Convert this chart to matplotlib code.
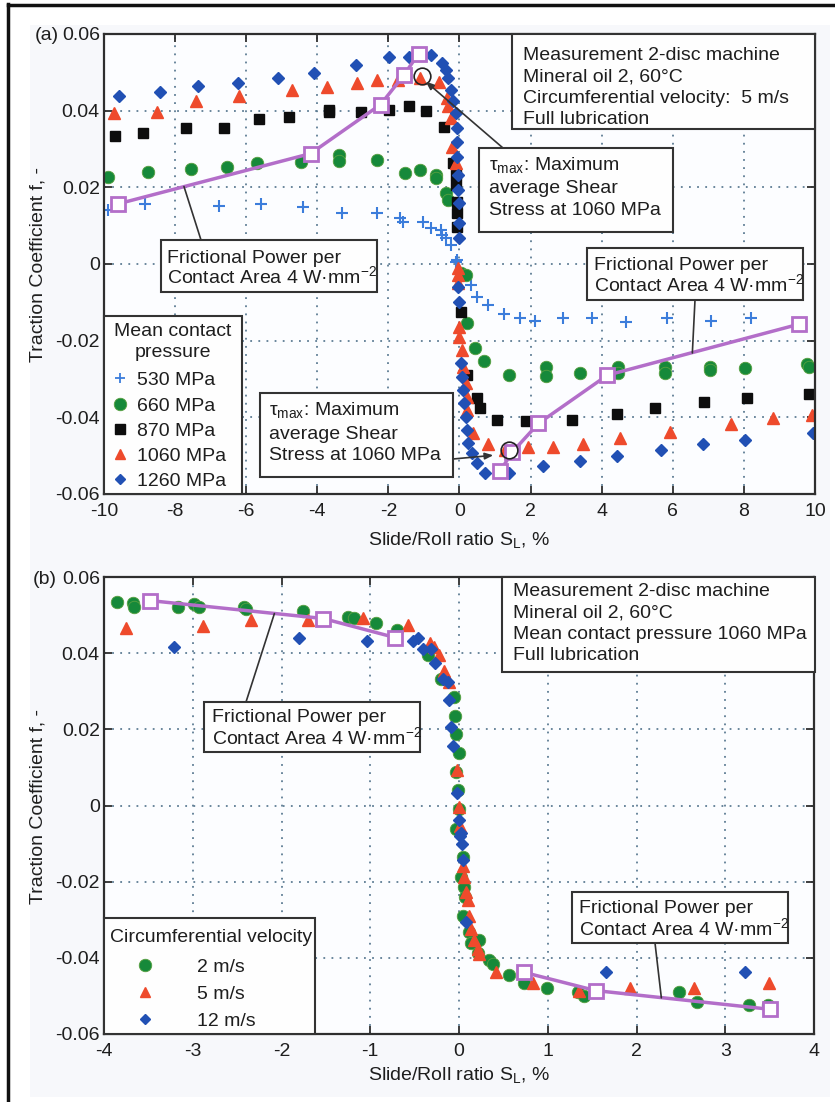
import matplotlib
matplotlib.use("Agg")
import matplotlib.pyplot as plt
import matplotlib.transforms as mtransforms
from matplotlib.patches import Rectangle
from matplotlib.lines import Line2D
from matplotlib.ticker import FuncFormatter

plt.rcParams['font.family'] = ['Liberation Sans', 'DejaVu Sans']
plt.rcParams['mathtext.fontset'] = 'custom'
plt.rcParams['mathtext.rm'] = 'Liberation Sans'
plt.rcParams['mathtext.it'] = 'Liberation Sans:italic'
plt.rcParams['axes.unicode_minus'] = False
plt.rcParams['font.size'] = 14

# ---------------- panel (a): mean contact pressure, 5 m/s ----------------
x_530 = [-9.9, -8.85, -6.77, -5.59, -4.41, -3.31, -2.33, -1.66, -1.6, -1.04, -0.81, -0.53, -0.48,
         -0.39, -0.25, -0.08, -0.11, 0.31, 0.5, 0.79, 1.24, 1.71, 2.13, 2.92, 3.73, 4.69, 5.84, 7.08, 8.2]
y_530 = [0.0141, 0.0157, 0.0152, 0.0157, 0.0149, 0.0133, 0.0133, 0.012, 0.011, 0.011, 0.0094, 0.0089, 0.0076,
         0.0068, 0.005, 0.001, 0.0005, -0.0055, -0.0086, -0.0107, -0.0131, -0.0141, -0.0149, -0.0141, -0.0141,
         -0.0152, -0.0141, -0.0149, -0.0141]

x_660 = [-9.9, -8.77, -7.56, -6.54, -5.7, -4.47, -3.4, -3.4, -2.33, -1.52, -1.1, -0.67, -0.65, -0.39, -0.31,
         0.03, 0.17, 0.22, 0.45, 0.7, 1.4, 2.42, 2.42, 3.4, 4.47, 4.47, 5.79, 5.79, 7.05, 7.05, 8.03, 9.78, 9.83]
y_660 = [0.0228, 0.0241, 0.0248, 0.0254, 0.0264, 0.0267, 0.0285, 0.0269, 0.0272, 0.0238, 0.0244, 0.0233, 0.0225,
         0.0186, 0.0167, -0.0024, -0.0029, -0.0154, -0.022, -0.0254, -0.029, -0.0269, -0.0293, -0.0285, -0.0269,
         -0.0285, -0.0269, -0.0285, -0.0269, -0.0277, -0.0272, -0.0261, -0.0269]

x_870 = [-9.69, -8.9, -7.7, -6.63, -5.65, -4.8, -3.68, -3.68, -2.78, -1.99, -1.43, -0.93, -0.45, -0.17, -0.11,
         -0.11, -0.06, -0.06, -0.06, 0.03, 0.22, 0.48, 0.59, 1.05, 1.87, 3.17, 4.44, 5.51, 6.88, 8.09, 9.83]
y_870 = [0.0335, 0.0342, 0.0356, 0.0356, 0.0379, 0.0384, 0.0397, 0.0402, 0.0397, 0.0403, 0.0413, 0.04, 0.0358,
         0.0264, 0.0233, 0.0206, 0.0162, 0.0133, 0.0097, -0.0125, -0.029, -0.0349, -0.0375, -0.0406, -0.0409,
         -0.0406, -0.0392, -0.0376, -0.0361, -0.035, -0.034]

x_1060 = [-9.72, -8.51, -7.42, -6.21, -4.72, -3.74, -2.87, -2.33, -1.74, -1.12, -0.59, -0.34, -0.31, -0.25, -0.2,
          -0.11, -0.03, -0.03, -0.03, 0.0, 0.0, 0.08, 0.11, 0.17, 0.22, 0.22, 0.39, 0.81, 1.29, 1.94, 2.64, 3.48,
          4.52, 5.93, 7.64, 8.82, 9.92]
y_1060 = [0.0395, 0.0397, 0.0424, 0.0437, 0.0455, 0.0463, 0.0473, 0.0481, 0.0481, 0.0484, 0.0476, 0.0434, 0.0413,
          0.0382, 0.0306, 0.0264, -0.001, -0.0029, -0.005, -0.0165, -0.019, -0.0225, -0.0269, -0.0311, -0.0348,
          -0.0382, -0.044, -0.0469, -0.0486, -0.0478, -0.0478, -0.047, -0.0455, -0.0439, -0.0418, -0.0403, -0.0395]

x_1260 = [-9.58, -8.43, -7.36, -6.24, -5.11, -4.1, -2.92, -1.99, -1.43, -0.81, -0.48, -0.39, -0.31, -0.25, -0.17,
          -0.11, -0.08, -0.06, -0.06, -0.03, -0.03, 0.0, 0.0, 0.0, -0.03, 0.0, 0.03, 0.08, 0.11, 0.14, 0.17, 0.22,
          0.25, 0.36, 0.48, 0.73, 1.4, 2.36, 3.4, 4.44, 5.67, 6.85, 8.03, 9.94]
y_1260 = [0.0437, 0.045, 0.0465, 0.0473, 0.0486, 0.0499, 0.052, 0.0539, 0.0541, 0.0546, 0.0525, 0.0507, 0.0486,
          0.0455, 0.0426, 0.0395, 0.0356, 0.0319, 0.028, 0.0233, 0.0193, 0.0159, 0.0107, 0.0068, -0.006, -0.0099,
          -0.0259, -0.0295, -0.0329, -0.0363, -0.04, -0.0434, -0.0468, -0.0494, -0.052, -0.0544, -0.0544, -0.0528,
          -0.0515, -0.0502, -0.0484, -0.047, -0.0458, -0.0442]

# frictional power 4 W/mm^2 curve (two branches)
fpa_left_x = [-9.6, -4.19, -2.22, -1.57, -1.15]
fpa_left_y = [0.0157, 0.0288, 0.0416, 0.0492, 0.0549]
fpa_right_x = [1.15, 1.49, 2.22, 4.16, 9.55]
fpa_right_y = [-0.0539, -0.049, -0.0416, -0.029, -0.0157]

# ---------------- panel (b): 1060 MPa, circumferential velocity ----------------
x_2ms = [-3.85, -3.67, -3.66, -3.17, -2.99, -2.93, -2.42, -2.4, -1.76, -1.25, -1.18, -0.94, -0.7, -0.35, -0.2,
         -0.06, -0.05, -0.03, 0.0, -0.03, -0.01, 0.0, -0.03, 0.04, 0.02, 0.06, 0.07, 0.04, 0.11, 0.14, 0.23, 0.21,
         0.34, 0.38, 0.56, 0.73, 0.99, 1.34, 1.41, 2.48, 2.68, 3.27, 3.48]
y_2ms = [0.0535, 0.0533, 0.052, 0.052, 0.053, 0.052, 0.0522, 0.0517, 0.0512, 0.0496, 0.0493, 0.0478, 0.0462,
         0.0394, 0.0331, 0.0286, 0.0234, 0.0189, 0.0139, 0.0089, 0.0042, -0.001, -0.0063, -0.0136, -0.0189,
         -0.0215, -0.0241, -0.0291, -0.0333, -0.036, -0.0352, -0.0388, -0.0407, -0.0417, -0.0444, -0.0465, -0.048,
         -0.049, -0.0501, -0.049, -0.0517, -0.0525, -0.0525]

x_5ms = [-3.75, -2.88, -2.34, -1.7, -1.08, -0.57, -0.33, -0.28, -0.23, -0.17, -0.11, -0.02, 0.0, 0.01, 0.05,
         0.06, 0.08, 0.1, 0.11, 0.14, 0.17, 0.21, 0.23, 0.42, 0.83, 1.35, 1.93, 2.65, 3.49]
y_5ms = [0.0465, 0.0472, 0.0486, 0.0486, 0.0492, 0.0474, 0.0428, 0.0417, 0.0396, 0.0354, 0.0325, 0.0092,
         -0.0003, -0.0055, -0.016, -0.0189, -0.0226, -0.0247, -0.0291, -0.0325, -0.0352, -0.0378, -0.0391,
         -0.0438, -0.0467, -0.0486, -0.0478, -0.0478, -0.0467]

x_12ms = [-3.21, -1.8, -1.04, -0.52, -0.46, -0.41, -0.32, -0.27, -0.18, -0.12, -0.11, -0.09, -0.07, -0.02, 0.0,
          0.01, 0.03, 0.02, 0.04, 0.08, 1.66, 3.22]
y_12ms = [0.0415, 0.0441, 0.0433, 0.0433, 0.0441, 0.041, 0.041, 0.0375, 0.0331, 0.0323, 0.0278, 0.0205, 0.0155,
          0.0034, -0.0037, -0.0081, -0.0102, -0.0071, -0.0142, -0.0307, -0.0438, -0.0436]

fpb_left_x = [-3.48, -1.53, -0.72]
fpb_left_y = [0.0538, 0.0491, 0.0441]
fpb_right_x = [0.73, 1.54, 3.5]
fpb_right_y = [-0.0438, -0.0486, -0.0535]

# annotation anchors (data coordinates)
tau_circles = [(-1.05, 0.049), (1.40, -0.0486)]
tau_tips = [(-0.95, 0.0476), (0.95, -0.0499)]
fp_targets_a = [(-7.75, 0.0202), (6.55, -0.0232)]
fp_targets_b = [(-2.08, 0.0504), (2.28, -0.0505)]

GREEN, RED, DBLUE, LBLUE, BLACK = '#16893a', '#ee4a2c', '#2150b4', '#3c7ddb', '#0d0d0d'
PURPLE = '#b36ec9'
EDGE = '#2e2e2e'
TXT = '#1e1e1e'

W, H = 835, 1102
fig = plt.figure(figsize=(W / 100, H / 100), dpi=100)
fig.patch.set_facecolor('white')
# pixel coordinates, origin top-left
PX = mtransforms.Affine2D().scale(1 / W, -1 / H).translate(0, 1) + fig.transFigure

fig.add_artist(Rectangle((30, 25), 800, 1072, transform=PX, facecolor='#f7f8fb',
                         edgecolor='none', zorder=-1))
fig.add_artist(Line2D([8, 8], [4, 1102], transform=PX, color='#111111', lw=2.5))
fig.add_artist(Line2D([8, 835], [5, 5], transform=PX, color='#111111', lw=2.5))

fmt = FuncFormatter(lambda v, p: '0' if abs(v) < 1e-9 else f'{v:g}')


def style_axes(ax, xticks, yticks):
    ax.set_facecolor('#fcfdff')
    ax.set_xlim(xticks[0], xticks[-1])
    ax.set_ylim(yticks[0], yticks[-1])
    ax.set_xticks(xticks)
    ax.set_yticks(yticks)
    ax.xaxis.set_major_formatter(fmt)
    ax.yaxis.set_major_formatter(fmt)
    ax.grid(True, linestyle=(0, (1, 3.5)), color='#5e7d94', lw=1.3)
    ax.set_axisbelow(True)
    ax.tick_params(direction='in', top=True, right=True, length=6, width=1.3,
                   color=EDGE, labelsize=14, labelcolor=TXT)
    ax.tick_params(axis='x', pad=6.5)
    ax.tick_params(axis='y', pad=3)
    for s in ax.spines.values():
        s.set_linewidth(1.6)
        s.set_color(EDGE)


def text_box(x0, y0, x1, y1, tx, baselines, lines):
    fig.add_artist(Rectangle((x0, y0), x1 - x0, y1 - y0, transform=PX, facecolor='#fefefe',
                             edgecolor='#333333', lw=1.5, zorder=2))
    for by, s in zip(baselines, lines):
        fig.text(tx, by, s, transform=PX, fontsize=14, va='baseline', ha='left',
                 color=TXT, zorder=3)


def leader(ax, target, start, arrow=False):
    style = dict(arrowstyle='-|>,head_length=0.35,head_width=0.14' if arrow else '-',
                 color='#333333', lw=1.2, shrinkA=0, shrinkB=0)
    ax.annotate('', xy=target, xycoords='data', xytext=start, textcoords=PX,
                arrowprops=style)


FP_LINES = ['Frictional Power per', 'Contact Area 4 W·mm$^{\\mathregular{-2}}$']
TAU_LINES = ['τ$_{\\mathregular{max}}$: Maximum', 'average Shear', 'Stress at 1060 MPa']

# ======================= panel (a) =======================
ax1 = fig.add_axes([104 / W, 1 - 494 / H, 711 / W, 460 / H])
style_axes(ax1, list(range(-10, 11, 2)), [-0.06, -0.04, -0.02, 0, 0.02, 0.04, 0.06])

ax1.plot(x_530, y_530, ls='none', marker='+', ms=8, mew=1.5, color=LBLUE)
ax1.plot(x_660, y_660, ls='none', marker='o', ms=9, mfc=GREEN, mec='#58a040', mew=0.6)
ax1.plot(x_870, y_870, ls='none', marker='s', ms=7.5, color=BLACK)
ax1.plot(x_1060, y_1060, ls='none', marker='^', ms=8, color=RED)
ax1.plot(x_1260, y_1260, ls='none', marker='D', ms=6, color=DBLUE)
for fx, fy in [(fpa_left_x, fpa_left_y), (fpa_right_x, fpa_right_y)]:
    ax1.plot(fx, fy, color=PURPLE, lw=2.5, marker='s', ms=10, mfc='white', mec=PURPLE, mew=2)

ax1.plot(*tau_circles[0], marker='o', ms=12, mfc='none', mec='#222222', mew=1.2)
ax1.plot(*tau_circles[1], marker='o', ms=12, mfc='none', mec='#222222', mew=1.2)
leader(ax1, tau_tips[0], (503, 148), arrow=True)
leader(ax1, tau_tips[1], (453, 459), arrow=True)
leader(ax1, fp_targets_a[0], (201, 240))
leader(ax1, fp_targets_a[1], (695, 300))

text_box(512, 34, 815, 129, 523, [60, 81, 103, 124],
         ['Measurement 2-disc machine', 'Mineral oil 2, 60°C',
          'Circumferential velocity:  5 m/s', 'Full lubrication'])
text_box(479, 148, 673, 232, 489, [170, 193, 215], TAU_LINES)
text_box(161, 240, 377, 292, 167, [263, 283], FP_LINES)
text_box(587, 248, 803, 300, 594, [270, 291], FP_LINES)
text_box(260, 393, 453, 477, 269, [415, 439, 460], TAU_LINES)

# legend (a)
fig.add_artist(Rectangle((104, 316), 138, 178, transform=PX, facecolor='#fefefe',
                         edgecolor='#333333', lw=1.5, zorder=2))
fig.text(173, 336, 'Mean contact', transform=PX, ha='center', va='baseline', fontsize=14, color=TXT, zorder=3)
fig.text(173, 357, 'pressure', transform=PX, ha='center', va='baseline', fontsize=14, color=TXT, zorder=3)
leg_a = [('530 MPa', dict(marker='+', ms=7, mew=1.3, color=LBLUE)),
         ('660 MPa', dict(marker='o', ms=9, mfc=GREEN, mec='#58a040', mew=0.6)),
         ('870 MPa', dict(marker='s', ms=6.5, color=BLACK)),
         ('1060 MPa', dict(marker='^', ms=7.5, color=RED)),
         ('1260 MPa', dict(marker='D', ms=5.5, color=DBLUE))]
for (lab, kw), by in zip(leg_a, [385, 411, 436, 461, 486]):
    fig.add_artist(Line2D([120], [by - 7], transform=PX, ls='none', zorder=3, **kw))
    fig.text(137, by, lab, transform=PX, ha='left', va='baseline', fontsize=14, color=TXT, zorder=3)

fig.text(47, 36, '(a)', transform=PX, ha='center', va='center', fontsize=14, color=TXT)
fig.text(38, 264, 'Traction Coefficient f, -', transform=PX, rotation=90,
         ha='center', va='center', fontsize=14, color=TXT)
fig.text(459, 540, 'Slide/Roll ratio S$_{\\mathregular{L}}$, %', transform=PX,
         ha='center', va='center', fontsize=14, color=TXT)

# ======================= panel (b) =======================
ax2 = fig.add_axes([104 / W, 1 - 1034 / H, 710 / W, 457 / H])
style_axes(ax2, list(range(-4, 5)), [-0.06, -0.04, -0.02, 0, 0.02, 0.04, 0.06])

ax2.plot(x_2ms, y_2ms, ls='none', marker='o', ms=9, mfc=GREEN, mec='#58a040', mew=0.6)
ax2.plot(x_5ms, y_5ms, ls='none', marker='^', ms=8, color=RED)
ax2.plot(x_12ms, y_12ms, ls='none', marker='D', ms=6, color=DBLUE)
for fx, fy in [(fpb_left_x, fpb_left_y), (fpb_right_x, fpb_right_y)]:
    ax2.plot(fx, fy, color=PURPLE, lw=2.5, marker='s', ms=10, mfc='white', mec=PURPLE, mew=2)

leader(ax2, fp_targets_b[0], (246, 702))
leader(ax2, fp_targets_b[1], (655, 943))

text_box(502, 577, 815, 672, 513, [596, 618, 639, 660],
         ['Measurement 2-disc machine', 'Mineral oil 2, 60°C',
          'Mean contact pressure 1060 MPa', 'Full lubrication'])
text_box(204, 702, 420, 752, 212, [722, 744], FP_LINES)
text_box(572, 892, 788, 943, 579, [913, 935], FP_LINES)

# legend (b)
fig.add_artist(Rectangle((104, 918), 211, 116, transform=PX, facecolor='#fefefe',
                         edgecolor='#333333', lw=1.5, zorder=2))
fig.text(110, 942, 'Circumferential velocity', transform=PX, ha='left', va='baseline',
         fontsize=14, color=TXT, zorder=3)
leg_b = [('2 m/s', dict(marker='o', ms=9, mfc=GREEN, mec='#58a040', mew=0.6)),
         ('5 m/s', dict(marker='^', ms=7.5, color=RED)),
         ('12 m/s', dict(marker='D', ms=5.5, color=DBLUE))]
for (lab, kw), by in zip(leg_b, [972, 999, 1026]):
    fig.add_artist(Line2D([145], [by - 7], transform=PX, ls='none', zorder=3, **kw))
    fig.text(197, by, lab, transform=PX, ha='left', va='baseline', fontsize=14, color=TXT, zorder=3)

fig.text(45, 580, '(b)', transform=PX, ha='center', va='center', fontsize=14, color=TXT)
fig.text(38, 806, 'Traction Coefficient f, -', transform=PX, rotation=90,
         ha='center', va='center', fontsize=14, color=TXT)
fig.text(459, 1075, 'Slide/Roll ratio S$_{\\mathregular{L}}$, %', transform=PX,
         ha='center', va='center', fontsize=14, color=TXT)

fig.savefig('out.png', dpi=100)
